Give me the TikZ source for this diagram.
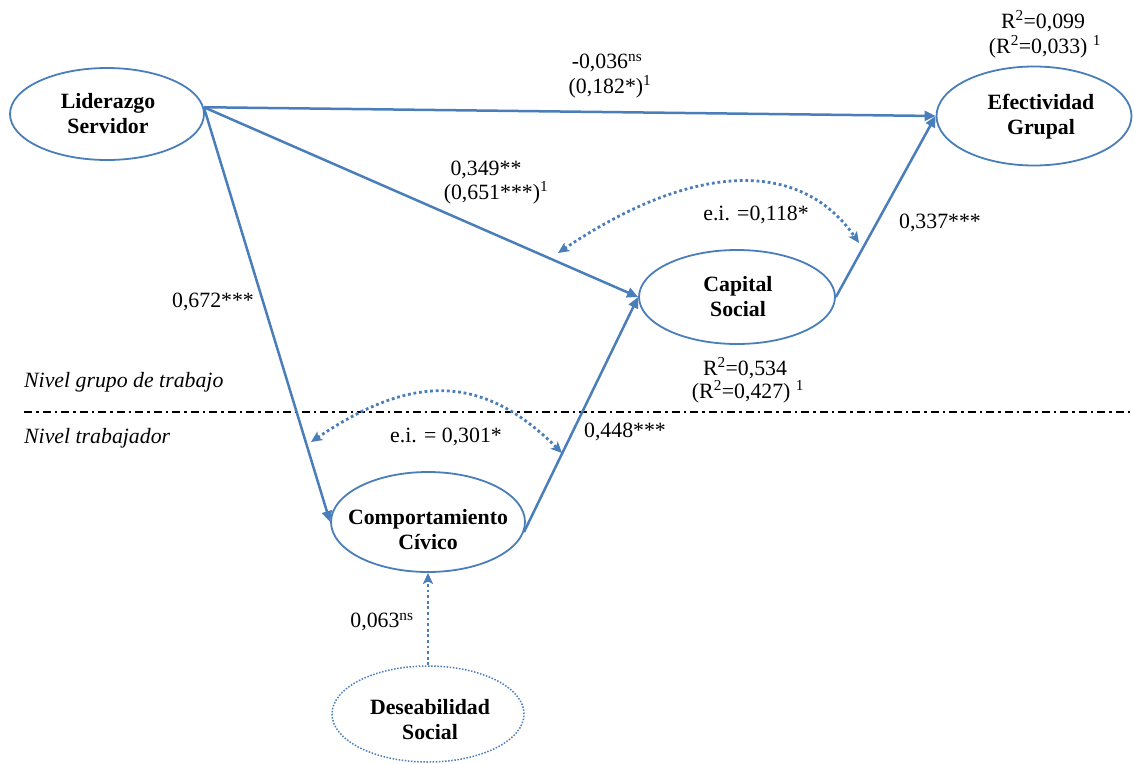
\documentclass[tikz,border=0pt]{standalone}
\usepackage{fontspec}
\setmainfont{Liberation Serif}
\usetikzlibrary{shapes.geometric,arrows.meta}
\definecolor{lineblue}{HTML}{4A7EBB}
\begin{document}
\begin{tikzpicture}[x=1pt,y=-1pt,
  latent/.style={draw=lineblue,line width=1.8pt,ellipse,inner sep=0pt},
  title/.style={font=\fontsize{21.8}{25}\selectfont\bfseries,align=center,inner sep=0pt},
  coef/.style={font=\fontsize{21.8}{25}\selectfont,inner sep=0pt},
  level/.style={font=\fontsize{21.8}{25}\selectfont\itshape,inner sep=0pt,anchor=west},
  regpath/.style={draw=lineblue,line width=2.5pt,-{Triangle[length=11pt,width=10pt]}},
  corr/.style={draw=lineblue,line width=2.8pt,dash pattern=on 2.8pt off 2.8pt,
    {Stealth[length=11pt,width=10pt,inset=2.5pt]}-{Stealth[length=11pt,width=10pt,inset=2.5pt]}},
  ctrlpath/.style={draw=lineblue,line width=2.8pt,dash pattern=on 2.8pt off 2.8pt,
    -{Stealth[length=11pt,width=10pt,inset=2.5pt]}},
]
\fill[white] (0,0) rectangle (1135,763);
\useasboundingbox (0,0) rectangle (1135,763);

% latent variables
\node[latent,minimum width=194pt,minimum height=92pt] (lid) at (107,114) {};
\node[latent,minimum width=195pt,minimum height=99pt] (efe) at (1034,116) {};
\node[latent,minimum width=196pt,minimum height=94pt] (cap) at (737,297) {};
\node[latent,minimum width=194pt,minimum height=100pt] (com) at (428,522) {};
\node[latent,line width=1.5pt,dash pattern=on 1.5pt off 1.6pt,
      minimum width=192pt,minimum height=96pt] (des) at (428,714) {};

\node[title] (lidT) at (108,114) {Liderazgo\\Servidor};
\node[title] (efeT) at (1041,117) {Efectividad\\Grupal};
\node[title] (capT) at (738,297) {Capital\\Social};
\node[title] (comT) at (428,530) {Comportamiento\\Cívico};
\node[title] (desT) at (430,720) {Deseabilidad\\Social};

% level divider
\coordinate (divL) at (24,412);
\coordinate (divR) at (1133,412);
\draw[black,line width=1.3pt,dash pattern=on 8pt off 4pt on 2.5pt off 4pt] (divL) -- (divR);
\node[level] (lvG) at (24,382) {Nivel grupo de trabajo};
\node[level] (lvT) at (24,438) {Nivel trabajador};

% structural paths
\draw[regpath] (lid.4) -- (efe.west);
\draw[regpath] (lid.4) -- (cap.west);
\draw[regpath] (lid.4) -- (com.west);
\draw[regpath] (com.-6) -- (cap.west);
\draw[regpath] (cap.east) -- (efe.west);
\draw[ctrlpath] (des.north) -- (com.south);

% error covariances
\coordinate (e1a) at (558,253);
\coordinate (e1b) at (859,243);
\draw[corr] (e1a) .. controls (693,162) and (800,158) .. (e1b);
\coordinate (e2a) at (311,442);
\coordinate (e2b) at (562,453);
\draw[corr] (e2a) .. controls (410,375) and (481,372) .. (e2b);

% coefficients
\node[coef] (r2e) at (1043,21) {R\textsuperscript{2}=0,099};
\node[coef] (r2e1) at (1045,47) {(R\textsuperscript{2}=0,033) \textsuperscript{1}};
\node[coef] (bLE) at (607,63) {-0,036\textsuperscript{ns}};
\node[coef] (bLE1) at (610,87) {(0,182*)\textsuperscript{1}};
\node[coef] (bLC) at (486,170) {0,349**};
\node[coef] (bLC1) at (496,193) {(0,651***)\textsuperscript{1}};
\node[coef] (ei1) at (756,215) {e.i. =0,118*};
\node[coef] (bCE) at (940,223) {0,337***};
\node[coef] (bLO) at (213,302) {0,672***};
\node[coef] (r2c) at (745,368) {R\textsuperscript{2}=0,534};
\node[coef] (r2c1) at (748,392) {(R\textsuperscript{2}=0,427) \textsuperscript{1}};
\node[coef] (ei2) at (446,437) {e.i. = 0,301*};
\node[coef] (bOC) at (625,432) {0,448***};
\node[coef] (bDO) at (382,622) {0,063\textsuperscript{ns}};
\end{tikzpicture}
\end{document}
